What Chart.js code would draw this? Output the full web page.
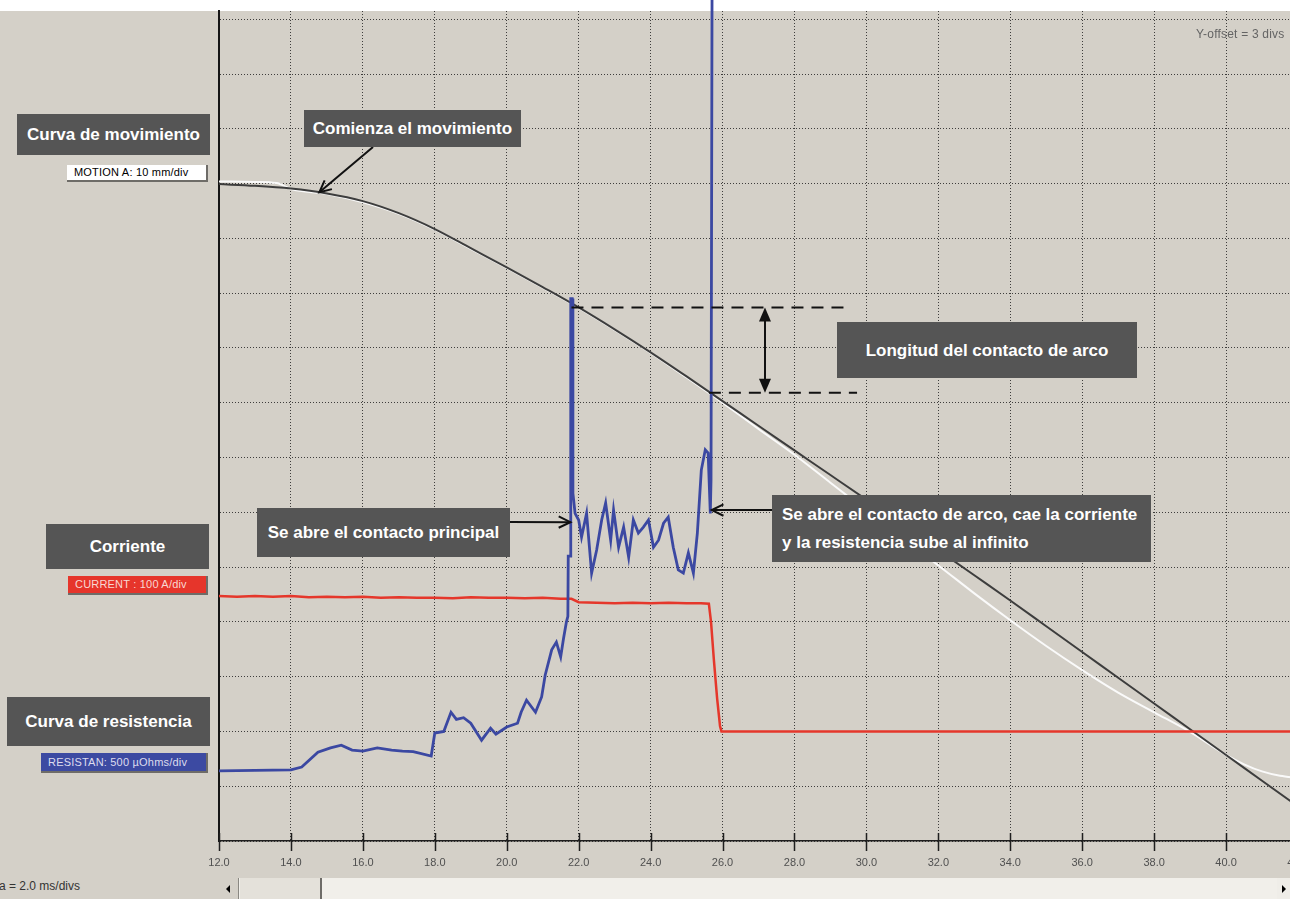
<!DOCTYPE html>
<html lang="es">
<head>
<meta charset="utf-8">
<title>Curvas de movimiento, corriente y resistencia</title>
<script src="https://cdn.jsdelivr.net/npm/chart.js@4.4.1/dist/chart.umd.min.js"></script>
<style>
    html, body { margin: 0; padding: 0; }
    body {
        width: 1290px; height: 899px; overflow: hidden; position: relative;
        background: #d4d0c8; font-family: "Liberation Sans", Arial, sans-serif;
    }
    #topStrip { position: absolute; left: 0; top: 0; width: 1290px; height: 11px; background: #fff; }
    #chart { position: absolute; left: 0; top: 0; }
    .note {
        position: absolute; background: #555555; color: #fff; font-weight: bold;
        font-size: 17px; line-height: 1; display: flex; align-items: center;
        justify-content: center; white-space: nowrap; box-sizing: border-box;
    }
    .note.multi { display: block; padding: 6px 0 0 10px; line-height: 28px; }
    .tag {
        position: absolute; font-size: 11px; line-height: 1; display: flex; align-items: center;
        padding-left: 7px; box-sizing: border-box; white-space: nowrap; letter-spacing: 0.2px;
        border-right: 2px solid #6e6c68; border-bottom: 2px solid #6e6c68;
    }
    #offset { position: absolute; left: 1196px; top: 27px; font-size: 12px; color: #646464; white-space: nowrap; letter-spacing: 0.2px; }
    #timebase { position: absolute; left: -1px; top: 879px; font-size: 12px; color: #333; white-space: nowrap; }
    #scroll { position: absolute; left: 219px; top: 878px; width: 1071px; height: 21px; background: #f1efea; }
    #btnLeft { position: absolute; left: 0; top: 0; width: 20px; height: 21px; background: #d4d0c8; border-right: 1px solid #8a8882; box-sizing: border-box; }
    #btnLeft::after { content: ""; position: absolute; left: 7px; top: 7px; border-top: 4px solid transparent; border-bottom: 4px solid transparent; border-right: 4px solid #000; }
    #thumb { position: absolute; left: 21px; top: 0; width: 82px; height: 21px; background: #e4e1da; border-right: 2px solid #6e6c68; box-sizing: border-box; }
    #btnRight { position: absolute; left: 1058px; top: 0; width: 13px; height: 21px; background: #efede8; }
    #btnRight::after { content: ""; position: absolute; left: 5px; top: 7px; border-top: 4px solid transparent; border-bottom: 4px solid transparent; border-left: 4px solid #000; }
</style>
</head>
<body>
<div id="topStrip"></div>
<canvas id="chart" width="1330" height="878"></canvas>

<div class="note" style="left:17px; top:114px; width:193px; height:41px;">Curva de movimiento</div>
<div class="tag" style="left:67px; top:165px; width:141px; height:17px; background:#fff; color:#000;">MOTION A: 10 mm/div</div>
<div class="note" style="left:304px; top:110px; width:217px; height:37px;">Comienza el movimiento</div>
<div class="note" style="left:837px; top:322px; width:300px; height:56px;">Longitud del contacto de arco</div>
<div class="note" style="left:257px; top:508px; width:253px; height:49px;">Se abre el contacto principal</div>
<div class="note multi" style="left:772px; top:495px; width:379px; height:67px;">Se abre el contacto de arco, cae la corriente<br>y la resistencia sube al infinito</div>
<div class="note" style="left:46px; top:524px; width:163px; height:45px;">Corriente</div>
<div class="tag" style="left:68px; top:576px; width:140px; height:19px; background:#e6352b; color:#f8d8d2;">CURRENT : 100 A/div</div>
<div class="note" style="left:7px; top:697px; width:203px; height:49px;">Curva de resistencia</div>
<div class="tag" style="left:41px; top:753px; width:167px; height:20px; background:#3c4aa2; color:#dcdcee;">RESISTAN: 500 µOhms/div</div>
<div id="offset">Y-offset = 3 divs</div>
<div id="timebase">a = 2.0 ms/divs</div>
<div id="scroll"><div id="btnLeft"></div><div id="thumb"></div><div id="btnRight"></div></div>

<script>
// Datos: tiempo en ms, amplitud en divisiones (0 = eje inferior)

// Curva de movimiento (traza oscura)
const motionTime = [12, 13, 14, 15, 16, 17, 18, 19, 20, 21, 22, 23, 24, 25, 26, 27,
    28, 29, 30, 31, 32, 33, 34, 35, 36, 37, 38, 39, 40, 41, 42];
const motionDark = [11.99, 11.96, 11.91, 11.82, 11.68, 11.46, 11.17, 10.82, 10.47, 10.11,
    9.74, 9.34, 8.92, 8.48, 8.03, 7.58, 7.13, 6.68, 6.23, 5.77, 5.31, 4.85, 4.39, 3.92,
    3.45, 2.98, 2.51, 2.04, 1.57, 1.10, 0.63];

// Curva de movimiento (traza blanca de referencia)
const motionLightTime = [12, 13, 13.6, 14, 15, 16, 17, 18, 19, 20, 21, 22, 23, 24, 25, 26, 27,
    28, 29, 30, 31, 32, 33, 34, 35, 36, 37, 38, 39, 40, 40.5, 41, 41.5, 42];
const motionLight = [12.04, 12.03, 12.01, 11.90, 11.81, 11.66, 11.45, 11.16, 10.81, 10.46,
    10.10, 9.73, 9.33, 8.91, 8.46, 8.00, 7.52, 7.05, 6.54, 6.03, 5.52, 5.03, 4.52, 4.03,
    3.56, 3.12, 2.71, 2.35, 1.99, 1.57, 1.40, 1.27, 1.19, 1.15];

// Corriente
const currentTime = [12, 12.5, 13, 13.5, 14, 14.5, 15, 15.5, 16, 16.5, 17, 17.5, 18, 18.5,
    19, 19.5, 20, 20.5, 21, 21.5, 21.8, 22.0, 22.5, 23, 23.5, 24, 24.5, 25, 25.4, 25.62,
    25.68, 25.76, 25.85, 25.93, 25.97, 30, 36, 42];
const currentValues = [4.47, 4.46, 4.47, 4.46, 4.47, 4.45, 4.46, 4.45, 4.46, 4.44, 4.45,
    4.44, 4.44, 4.43, 4.45, 4.44, 4.44, 4.43, 4.44, 4.42, 4.42, 4.36, 4.35, 4.34, 4.35,
    4.34, 4.35, 4.34, 4.34, 4.33, 4.0, 3.3, 2.6, 2.1, 2.0, 2.0, 2.0, 2.0];

// Resistencia
const resistTime = [12.0, 13.0, 14.0, 14.3, 14.75, 15.1, 15.4, 15.7, 16.0, 16.4, 16.8, 17.1,
    17.4, 17.9, 18.0, 18.25, 18.45, 18.6, 18.8, 19.0, 19.3, 19.55, 19.7, 20.0, 20.3, 20.4,
    20.55, 20.8, 20.97, 21.07, 21.25, 21.38, 21.5, 21.58, 21.66, 21.7, 21.71, 21.76, 21.78,
    21.82, 21.84, 21.9, 22.0, 22.08, 22.22, 22.36, 22.5, 22.64, 22.75, 22.89, 22.97, 23.11,
    23.25, 23.39, 23.52, 23.66, 23.8, 23.94, 24.08, 24.22, 24.36, 24.49, 24.63, 24.77,
    24.91, 25.05, 25.19, 25.3, 25.41, 25.52, 25.6, 25.66, 25.68, 25.71, 25.73];
const resistValues = [1.28, 1.29, 1.30, 1.35, 1.62, 1.70, 1.75, 1.66, 1.64, 1.70, 1.66, 1.64,
    1.63, 1.55, 1.97, 2.00, 2.35, 2.22, 2.25, 2.15, 1.84, 2.06, 1.95, 2.08, 2.15, 2.35,
    2.57, 2.35, 2.63, 3.03, 3.49, 3.63, 3.36, 3.70, 4.00, 4.10, 5.20, 5.20, 9.90,
    9.90, 6.35, 5.98, 5.86, 5.55, 5.98, 4.89, 5.31, 5.86, 6.17, 5.49, 6.04, 5.36,
    5.73, 5.18, 5.86, 5.62, 5.73, 5.86, 5.36, 5.49, 5.80, 5.91, 5.36, 4.95,
    4.89, 5.26, 4.89, 5.62, 6.77, 7.14, 7.08, 5.98, 6.59, 16.0, 20.0];

// Marcas de la longitud del contacto de arco (en unidades del gráfico)
const arcTop = { y: 9.74, from: 21.8, to: 29.45 };
const arcBottom = { y: 8.18, from: 25.62, to: 29.74 };
const arcArrowX = 27.18;

// Flechas: origen en el recuadro (px), punta sobre la curva (unidades del gráfico)
const pointers = [
    { from: [373, 147], to: [14.79, 11.84] },
    { from: [510, 522], to: [21.77, 5.82] },
    { from: [772, 510], to: [25.70, 6.04] }
];

const gridColor = 'rgba(35, 35, 35, 0.85)';

function toPoints(xs, ys) {
    return xs.map((x, i) => ({ x: x, y: ys[i] }));
}

function drawLine(ctx, x1, y1, x2, y2) {
    ctx.beginPath();
    ctx.moveTo(x1, y1);
    ctx.lineTo(x2, y2);
    ctx.stroke();
}

// Punta de flecha abierta
function drawOpenHead(ctx, fx, fy, tx, ty) {
    const a = Math.atan2(ty - fy, tx - fx);
    const len = 13, spread = 0.45;
    ctx.beginPath();
    ctx.moveTo(tx - len * Math.cos(a - spread), ty - len * Math.sin(a - spread));
    ctx.lineTo(tx, ty);
    ctx.lineTo(tx - len * Math.cos(a + spread), ty - len * Math.sin(a + spread));
    ctx.stroke();
}

// Punta de flecha rellena (vertical)
function drawFilledHead(ctx, x, y, dir) {
    ctx.beginPath();
    ctx.moveTo(x, y);
    ctx.lineTo(x - 6, y - dir * 14);
    ctx.lineTo(x + 6, y - dir * 14);
    ctx.closePath();
    ctx.fill();
}

const annotationPlugin = {
    id: 'anotaciones',
    afterDraw(chart) {
        const { ctx, chartArea, scales: { x, y } } = chart;
        const px = v => x.getPixelForValue(v);
        const py = v => y.getPixelForValue(v);
        ctx.save();

        // Marcas del eje x (cruzan la línea del eje)
        ctx.strokeStyle = '#1e1e1e';
        ctx.lineWidth = 1.5;
        x.ticks.forEach(t => {
            const xx = Math.round(px(t.value)) + 0.5;
            drawLine(ctx, xx, chartArea.bottom - 8, xx, chartArea.bottom + 10);
        });

        // Líneas discontinuas
        ctx.strokeStyle = '#111';
        ctx.lineWidth = 2;
        ctx.setLineDash([12, 8]);
        drawLine(ctx, px(arcTop.from), py(arcTop.y), px(arcTop.to), py(arcTop.y));
        drawLine(ctx, px(arcBottom.from), py(arcBottom.y), px(arcBottom.to), py(arcBottom.y));
        ctx.setLineDash([]);

        // Flecha doble vertical
        const ax = px(arcArrowX);
        const yTop = py(arcTop.y), yBot = py(arcBottom.y);
        ctx.fillStyle = '#111';
        drawLine(ctx, ax, yTop + 6, ax, yBot - 6);
        drawFilledHead(ctx, ax, yTop, -1);
        drawFilledHead(ctx, ax, yBot, 1);

        // Flechas de los recuadros
        pointers.forEach(p => {
            const tx = px(p.to[0]), ty = py(p.to[1]);
            drawLine(ctx, p.from[0], p.from[1], tx, ty);
            drawOpenHead(ctx, p.from[0], p.from[1], tx, ty);
        });

        ctx.restore();
    }
};

new Chart(document.getElementById('chart'), {
    type: 'line',
    data: {
        datasets: [
            {
                label: 'RESISTAN',
                data: toPoints(resistTime, resistValues),
                borderColor: '#3b48a2',
                borderWidth: 2.8,
                order: 1,
                clip: { left: 2, top: 12, right: 2, bottom: 2 }
            },
            {
                label: 'CURRENT',
                data: toPoints(currentTime, currentValues),
                borderColor: '#e5372b',
                borderWidth: 2.5,
                order: 2
            },
            {
                label: 'MOTION A',
                data: toPoints(motionTime, motionDark),
                borderColor: '#3d3d3d',
                borderWidth: 2,
                cubicInterpolationMode: 'monotone',
                order: 3
            },
            {
                label: 'MOTION A ref',
                data: toPoints(motionLightTime, motionLight),
                borderColor: '#fafafa',
                borderWidth: 2,
                cubicInterpolationMode: 'monotone',
                order: 4
            }
        ]
    },
    options: {
        responsive: false,
        devicePixelRatio: 1,
        animation: false,
        elements: { point: { radius: 0 }, line: { tension: 0, fill: false } },
        layout: { padding: { left: 219, top: 11, right: 32, bottom: 0 } },
        plugins: { legend: { display: false }, tooltip: { enabled: false } },
        scales: {
            x: {
                type: 'linear',
                min: 12,
                max: 42,
                afterFit: scale => { scale.height = 37; },
                ticks: {
                    stepSize: 2,
                    padding: 15,
                    color: '#505050',
                    font: { family: 'Liberation Sans', size: 11 },
                    maxRotation: 0,
                    autoSkip: false,
                    callback: v => v.toFixed(1)
                },
                grid: { color: gridColor, drawTicks: false, lineWidth: 1 },
                border: { color: '#1e1e1e', width: 1.5, dash: [1, 2] }
            },
            y: {
                type: 'linear',
                min: 0,
                max: 15.15,
                afterFit: scale => { scale.width = 0; },
                ticks: { display: false, stepSize: 1, includeBounds: false },
                grid: { color: gridColor, drawTicks: false, lineWidth: 1 },
                border: { color: '#151515', width: 2, dash: [1, 2] }
            }
        }
    },
    plugins: [annotationPlugin]
});
</script>
</body>
</html>
